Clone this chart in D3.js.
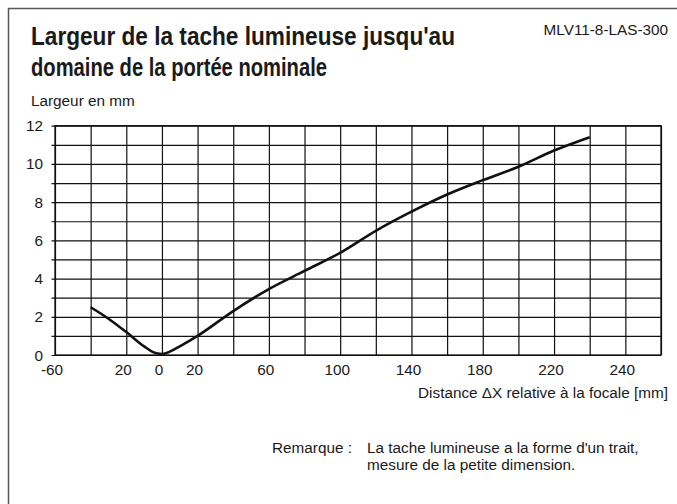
<!DOCTYPE html>
<html>
<head>
<meta charset="utf-8">
<script src="https://cdn.jsdelivr.net/npm/d3@7"></script>
<style>
  body { margin: 0; background: #fff; }
  text { font-family: "Liberation Sans", Arial, sans-serif; fill: #1a1a1a; }
</style>
</head>
<body>
<div id="graphic"></div>
<script>
// curve values
const distX = [-40, -30, -20, -10, -5, 0, 5, 10, 20, 40, 60, 80, 100, 120, 140, 160, 180, 200, 220, 240];
const largeur = [2.5, 1.9, 1.2, 0.45, 0.15, 0.05, 0.2, 0.45, 1.0, 2.3, 3.45, 4.4, 5.35, 6.5, 7.5, 8.4, 9.15, 9.85, 10.7, 11.4];

// tick labels as printed on the original (positions vs. printed text)
const xTickPos = [-60, -20, 0, 20, 60, 100, 140, 180, 220, 260];
const xTickText = ["-60", "20", "0", "20", "60", "100", "140", "180", "220", "240"];
const yTickPos = [0, 2, 4, 6, 8, 10, 12];

const W = 677, H = 504;
const plot = {left: 55, right: 661, top: 125.7, bottom: 355};
const fs = 15.3;

const svg = d3.select("#graphic")
    .append("svg")
    .attr("width", W)
    .attr("height", H);

// outer frame (only left and top visible)
svg.append("rect")
    .attr("x", 8.5).attr("y", 8.5)
    .attr("width", W + 20).attr("height", H + 20)
    .attr("fill", "none")
    .attr("stroke", "#555")
    .attr("stroke-width", 1.5);

const x = d3.scaleLinear().domain([-60, 280]).range([plot.left, plot.right]);
const y = d3.scaleLinear().domain([0, 12]).range([plot.bottom, plot.top]);

// vertical grid
svg.append("g")
    .attr("transform", `translate(0,${plot.bottom})`)
    .call(d3.axisBottom(x).tickValues(d3.range(-60, 281, 20)).tickSize(-(plot.bottom - plot.top)).tickFormat(""))
    .call(g => g.select(".domain").remove())
    .call(g => g.selectAll("line").attr("stroke", "#111").attr("stroke-width", 1.2));

// horizontal grid, sticking out a little on the left
svg.append("g")
    .attr("transform", `translate(${plot.right},0)`)
    .call(d3.axisLeft(y).tickValues(d3.range(0, 13, 1)).tickSize(plot.right - plot.left + 3.5).tickFormat(""))
    .call(g => g.select(".domain").remove())
    .call(g => g.selectAll("line").attr("stroke", "#111").attr("stroke-width", 1.2));

// frame of the plot
svg.append("rect")
    .attr("x", plot.left).attr("y", plot.top)
    .attr("width", plot.right - plot.left).attr("height", plot.bottom - plot.top)
    .attr("fill", "none").attr("stroke", "#111").attr("stroke-width", 1.3);

// y labels
svg.append("g")
    .selectAll("text")
    .data(yTickPos)
    .join("text")
    .attr("x", 43)
    .attr("y", d => y(d))
    .attr("dy", "0.36em")
    .attr("text-anchor", "end")
    .attr("font-size", fs)
    .text(d => d);

// x labels
svg.append("g")
    .selectAll("text")
    .data(xTickPos)
    .join("text")
    .attr("x", d => x(d) - 3)
    .attr("y", 375)
    .attr("text-anchor", "middle")
    .attr("font-size", fs)
    .text((d, i) => xTickText[i]);

// the curve
const line = d3.line()
    .x(d => x(d[0]))
    .y(d => y(d[1]))
    .curve(d3.curveMonotoneX);

svg.append("path")
    .datum(distX.map((d, i) => [d, largeur[i]]))
    .attr("d", line)
    .attr("fill", "none")
    .attr("stroke", "#111")
    .attr("stroke-width", 2.6)
    .attr("stroke-linejoin", "round");

// titles and notes
svg.append("text")
    .attr("x", 31).attr("y", 45)
    .attr("font-size", 26).attr("font-weight", "bold")
    .attr("textLength", 424).attr("lengthAdjust", "spacingAndGlyphs")
    .text("Largeur de la tache lumineuse jusqu'au");

svg.append("text")
    .attr("x", 31).attr("y", 76)
    .attr("font-size", 26).attr("font-weight", "bold")
    .attr("textLength", 296).attr("lengthAdjust", "spacingAndGlyphs")
    .text("domaine de la portée nominale");

svg.append("text")
    .attr("x", 668).attr("y", 35)
    .attr("text-anchor", "end")
    .attr("font-size", fs)
    .text("MLV11-8-LAS-300");

svg.append("text")
    .attr("x", 31).attr("y", 106)
    .attr("font-size", fs)
    .text("Largeur en mm");

svg.append("text")
    .attr("x", 668).attr("y", 398)
    .attr("text-anchor", "end")
    .attr("font-size", fs)
    .text("Distance \u0394X relative à la focale [mm]");

svg.append("text")
    .attr("x", 272).attr("y", 453)
    .attr("font-size", fs)
    .text("Remarque :");

svg.append("text")
    .attr("x", 367).attr("y", 453)
    .attr("font-size", fs)
    .text("La tache lumineuse a la forme d'un trait,");

svg.append("text")
    .attr("x", 367).attr("y", 470)
    .attr("font-size", fs)
    .text("mesure de la petite dimension.");
</script>
</body>
</html>
